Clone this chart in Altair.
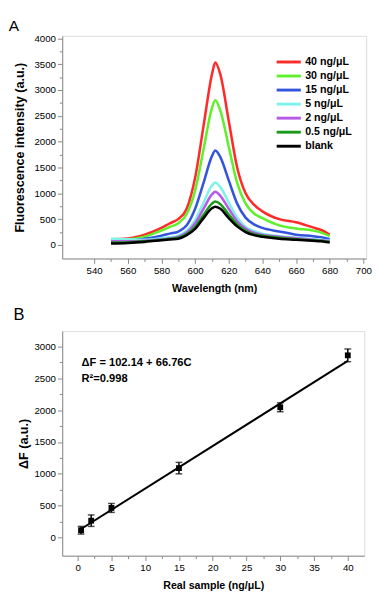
import altair as alt
import pandas as pd

# ---------- Panel A data ----------
wavelength = [550, 560, 570, 580, 585, 590, 595, 600, 605, 610, 612, 615, 620, 625, 630, 635, 640, 650, 660, 670, 675, 680]
series_names = ["40 ng/μL", "30 ng/μL", "15 ng/μL", "5 ng/μL", "2 ng/μL", "0.5 ng/μL", "blank"]
series_colors = ["#ff2a2a", "#5ef02a", "#3355dd", "#7ff2ea", "#b85ae8", "#1a9a1a", "#000000"]
s40 = [110, 125, 200, 330, 420, 500, 700, 1300, 2300, 3300, 3530, 3300, 2400, 1500, 1000, 780, 650, 500, 440, 340, 290, 200]
s30 = [100, 110, 160, 280, 350, 420, 600, 1050, 1850, 2650, 2800, 2600, 1900, 1200, 800, 610, 520, 380, 320, 280, 240, 170]
s15 = [90, 85, 120, 180, 220, 260, 380, 700, 1200, 1720, 1830, 1700, 1250, 800, 530, 400, 330, 260, 200, 170, 150, 110]
s5 = [120, 110, 100, 130, 150, 180, 270, 480, 820, 1150, 1210, 1120, 820, 530, 350, 270, 220, 170, 140, 110, 100, 80]
s2 = [70, 70, 80, 110, 130, 160, 240, 420, 700, 980, 1030, 950, 700, 460, 320, 240, 200, 160, 130, 100, 90, 70]
s05 = [50, 55, 70, 100, 120, 140, 210, 350, 580, 800, 840, 790, 590, 400, 280, 210, 180, 140, 110, 90, 80, 60]
sblank = [30, 40, 60, 90, 105, 120, 190, 310, 520, 710, 740, 700, 520, 360, 250, 190, 160, 120, 100, 80, 70, 50]
all_series = [s40, s30, s15, s5, s2, s05, sblank]

# ---------- Panel B data ----------
conc = [0.5, 2, 5, 15, 30, 40]
delta_f = [115, 265, 465, 1090, 2045, 2860]
err = [60, 90, 70, 90, 70, 100]
fit_x = [0.5, 40]
fit_y = [135, 2772]

rowsA = []
for name, vals in zip(series_names, all_series):
    for w, v in zip(wavelength, vals):
        rowsA.append({"wl": w, "val": v, "series": name})
dfA = pd.DataFrame(rowsA)
dfA["order"] = dfA["series"].map({n: i for i, n in enumerate(series_names)})

dfB = pd.DataFrame({"c": conc, "f": delta_f, "lo": [f - e for f, e in zip(delta_f, err)],
                    "hi": [f + e for f, e in zip(delta_f, err)]})
dfFit = pd.DataFrame({"c": fit_x, "f": fit_y})

FONT = "Arial"

def tick_size(major):
    return {"condition": {"test": f"abs(datum.value / {major} - round(datum.value / {major})) < 0.001", "value": 5}, "value": 3}

axA_x = alt.Axis(values=list(range(540, 701, 10)),
                 labelExpr="datum.value % 20 === 0 ? datum.label : ''",
                 tickSize=tick_size(20), title="Wavelength (nm)", grid=False, titlePadding=8)
axA_y = alt.Axis(values=list(range(0, 4001, 250)),
                 labelExpr="datum.value % 500 === 0 ? datum.label : ''",
                 tickSize=tick_size(500), title="Fluorescence intensity (a.u.)", grid=False,
                 format="d", titlePadding=8, titleFontSize=13)

chartA = alt.Chart(dfA).mark_line(strokeWidth=2.6, interpolate="monotone").encode(
    x=alt.X("wl:Q", scale=alt.Scale(domain=[521, 701.7], nice=False, zero=False), axis=axA_x),
    y=alt.Y("val:Q", scale=alt.Scale(domain=[-262, 4047], nice=False, zero=False), axis=axA_y),
    color=alt.Color("series:N", scale=alt.Scale(domain=series_names, range=series_colors),
                    legend=alt.Legend(title=None, orient="none", legendX=226, legendY=19,
                                      symbolType="M-1.92,0H1.92", symbolStrokeWidth=3, symbolSize=169,
                                      labelFontSize=11, labelFontWeight="bold", labelFont=FONT,
                                      labelColor="black", rowPadding=0.5, labelOffset=9, padding=0)),
    order=alt.Order("order:Q", sort="ascending"),
    detail="series:N",
).properties(width=314, height=230,
             title=alt.TitleParams("A", anchor="start", frame="bounds", fontSize=16,
                                   fontWeight="normal", font=FONT, dx=-5, offset=0))

# ---------- Panel B ----------
axB_x = alt.Axis(values=[v / 2 for v in range(0, 85, 5)],
                 labelExpr="datum.value % 5 === 0 ? datum.label : ''",
                 tickSize=tick_size(5), title="Real sample (ng/μL)", grid=False, titlePadding=8)
axB_y = alt.Axis(values=list(range(0, 3001, 250)),
                 labelExpr="datum.value % 500 === 0 ? datum.label : ''",
                 tickSize=tick_size(500), title="ΔF (a.u.)", grid=False, format="d",
                 titlePadding=4, titleFontSize=13)
scB_x = alt.Scale(domain=[-2.29, 42.44], nice=False, zero=False)
scB_y = alt.Scale(domain=[-285, 3240], nice=False, zero=False)

def xB():
    return alt.X("c:Q", scale=scB_x, axis=axB_x)

def yB(field="f"):
    return alt.Y(f"{field}:Q", scale=scB_y, axis=axB_y)

base = alt.Chart(dfB)
fit = alt.Chart(dfFit).mark_line(color="black", strokeWidth=2).encode(x=xB(), y=yB())
bars = base.mark_rule(color="black", strokeWidth=1.5).encode(x=xB(), y=yB("lo"), y2="hi:Q")
capsT = base.mark_tick(color="black", thickness=1.5, size=7, orient="horizontal").encode(x=xB(), y=yB("hi"))
capsB = base.mark_tick(color="black", thickness=1.5, size=7, orient="horizontal").encode(x=xB(), y=yB("lo"))
pts = base.mark_square(color="black", size=36, opacity=1).encode(x=xB(), y=yB())

ann_text = ["ΔF = 102.14 + 66.76C", "R²=0.998"]
ann_x = [0.57, 0.57]
ann_y = [2745, 2490]
ann = alt.Chart(pd.DataFrame({"c": ann_x, "f": ann_y, "t": ann_text})).mark_text(
    align="left", baseline="middle", fontSize=11.5, fontWeight="bold", font=FONT, color="black"
).encode(x=xB(), y=yB(), text="t:N")

chartB = alt.layer(fit, bars, capsT, capsB, pts, ann).properties(
    width=312, height=232,
    title=alt.TitleParams("B", anchor="start", frame="bounds", fontSize=17,
                          fontWeight="normal", font=FONT, dx=-4, offset=7))

chart = alt.vconcat(chartA, chartB, spacing=12).configure_view(
    stroke="black", strokeWidth=2
).configure_axis(
    labelFont=FONT, labelFontWeight="bold", labelFontSize=10, labelColor="black",
    titleFont=FONT, titleFontWeight="bold", titleFontSize=12.5, titleColor="black",
    domain=False, tickColor="black", tickWidth=1.5, labelPadding=1
).configure(padding={"left": 0, "top": 0, "right": 0, "bottom": 0})

chart.save("out.html", embed_options={"renderer": "svg", "actions": False})
